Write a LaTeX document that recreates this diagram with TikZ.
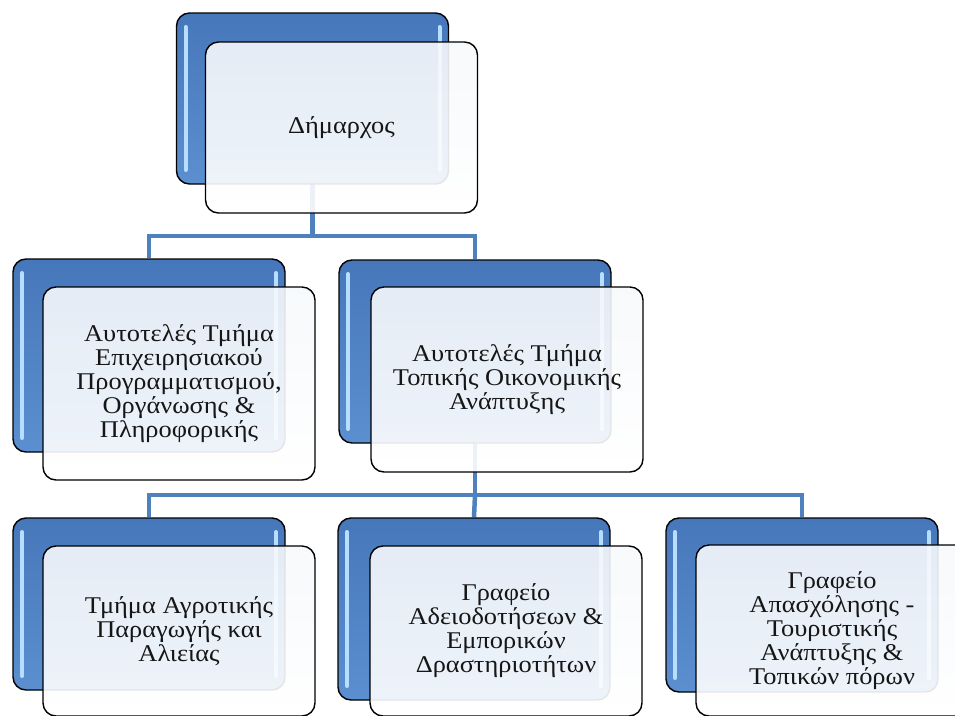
\documentclass[tikz,border=0pt]{standalone}
\usepackage{fontspec}
\setmainfont{Liberation Serif}[FakeStretch=1.1]
\usepackage{tikz}
\usetikzlibrary{calc}
\pgfdeclarelayer{background}
\pgfsetlayers{background,main}
\definecolor{boxblue}{HTML}{5B8FD0}
\definecolor{boxbluetop}{HTML}{4677BA}
\definecolor{linkblue}{HTML}{4F81BD}
\definecolor{boxglow}{HTML}{B8DEFF}
\definecolor{textgray}{HTML}{161616}
\tikzset{back/.style={draw=black, line width=1.4pt, rounded corners=13pt,
		top color=boxbluetop, bottom color=boxblue, minimum width=272pt, inner sep=0pt,
		path picture={
			\draw[boxglow, line width=4pt, line cap=round]
			([shift={(9pt,-14pt)}]path picture bounding box.north west) -- ([shift={(9pt,14pt)}]path picture bounding box.south west);
			\draw[boxglow, line width=4pt, line cap=round]
			([shift={(-9pt,-14pt)}]path picture bounding box.north east) -- ([shift={(-9pt,14pt)}]path picture bounding box.south east);
	}},
}
\tikzset{front/.style={draw=black, line width=1.4pt, rounded corners=13pt,
		top color=linkblue!5, bottom color=white, fill opacity=0.9, text opacity=1,
		minimum width=272pt, align=center, text=textgray, anchor=north west},
}
\tikzset{conn/.style={draw=linkblue, line width=4.5pt}}

\begin{document}
\begin{tikzpicture}[x=1pt,y=-1pt]
	\tikzstyle{every node}=[font=\fontsize{24}{24}\selectfont]
	\useasboundingbox (0,0) rectangle (955,715);
	
	\node[back, minimum height=171pt] (dimB) at (312.5,98.5) {};
	\node[front, minimum height=171pt] (dimW) at ($(dimB.north west)+(29,29)$) {Δήμαρχος};
	
	\node[back, minimum height=193pt] (progB) at (149,355.5) {};
	\node[front, minimum height=193pt] (progW) at ($(progB.north west)+(30,28)$)
	{Αυτοτελές Τμήμα\\Επιχειρησιακού\\Προγραμματισμού,\\Οργάνωσης \&\\Πληροφορικής};
	
	\node[back, minimum height=183pt] (oikB) at (475,351.5) {};
	\node[front, minimum height=185pt] (oikW) at ($(oikB.north west)+(32,27)$)
	{Αυτοτελές Τμήμα\\Τοπικής Οικονομικής\\Ανάπτυξης};
	
	\node[back, minimum height=172pt] (agrB) at (149,604) {};
	\node[front, minimum height=170pt] (agrW) at ($(agrB.north west)+(30,28)$)
	{Τμήμα Αγροτικής\\Παραγωγής και\\Αλιείας};
	
	\node[back, minimum height=182pt] (adeiB) at (474,609) {};
	\node[front, minimum height=170pt] (adeiW) at ($(adeiB.north west)+(32,28)$)
	{Γραφείο\\Αδειοδοτήσεων \&\\Εμπορικών\\Δραστηριοτήτων};
	
	\node[back, minimum height=174pt] (apasB) at (802,605) {};
	\node[front, minimum height=171pt] (apasW) at ($(apasB.north west)+(30,27)$)
	{Γραφείο\\Απασχόλησης -\\Τουριστικής\\Ανάπτυξης \&\\Τοπικών πόρων};
	
	\begin{pgfonlayer}{background}
		\coordinate (bus1) at ($(dimW.south)!0.5!(progB.north)$);
		\coordinate (bus2) at ($(oikW.south)!0.5!(adeiB.north)$);
		\draw[conn] (dimB.center) -- (dimB.center |- bus1) -| (progB.north);
		\draw[conn] (dimB.center |- bus1) -| (oikB.north);
		\draw[conn] (oikB.center) -- (oikB.center |- bus2) -| (agrB.north);
		\draw[conn] (oikB.center |- bus2) -- (adeiB.north);
		\draw[conn] (oikB.center |- bus2) -| (apasB.north);
	\end{pgfonlayer}
\end{tikzpicture}
\end{document}
